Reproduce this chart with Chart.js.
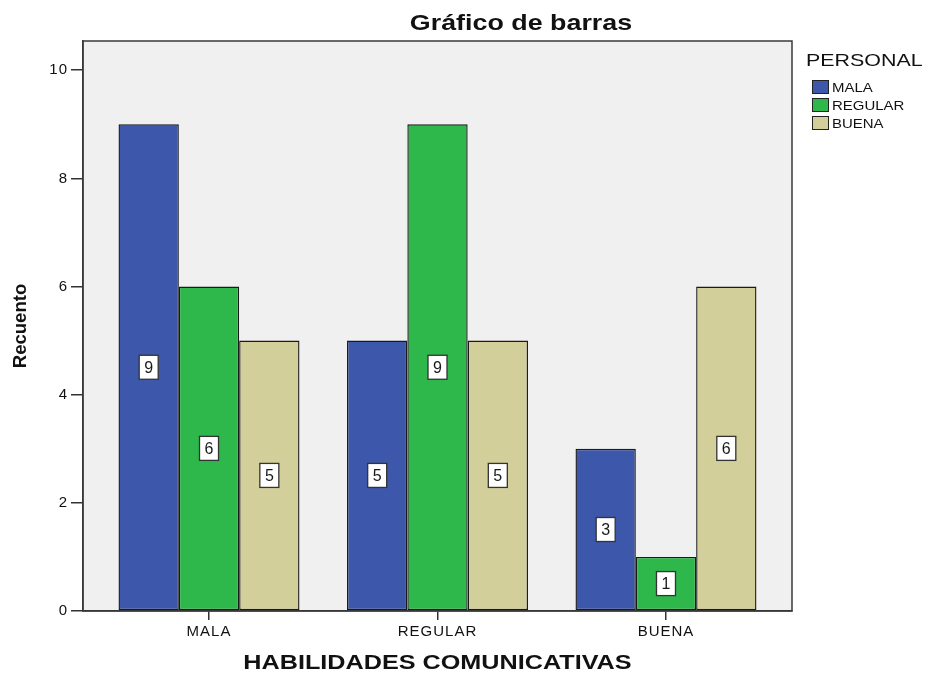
<!DOCTYPE html>
<html><head><meta charset="utf-8">
<script src="https://cdn.jsdelivr.net/npm/chart.js@4/dist/chart.umd.min.js"></script>
<style>html,body{margin:0;padding:0;background:#fff}#wrap{width:926px;height:673px;position:relative}</style>
</head><body><div id="wrap"><canvas id="c" width="926" height="673"></canvas></div>
<script>
const categories = ['MALA', 'REGULAR', 'BUENA'];
const seriesNames = ['MALA', 'REGULAR', 'BUENA'];
const malaValues = [9, 5, 3];
const regularValues = [6, 9, 1];
const buenaValues = [5, 5, 6];
const yTicks = [0, 2, 4, 6, 8, 10];
const chartTitle = 'Gráfico de barras';
const xTitle = 'HABILIDADES COMUNICATIVAS';
const yTitle = 'Recuento';
const legendTitle = 'PERSONAL';
const colors = ['#3d57aa', '#2eb74b', '#d3cf9a'];

const FAMILY = '"Liberation Sans", Arial, sans-serif';
Chart.defaults.font.family = FAMILY;

const seriesValues = [malaValues, regularValues, buenaValues];
const datasets = seriesNames.map((name, s) => ({
  label: name,
  data: categories.map((c, i) => ({ x: i, y: seriesValues[s][i] })),
  backgroundColor: colors[s],
  borderColor: '#1a1a1a',
  borderWidth: 1.4,
  borderSkipped: false,
  categoryPercentage: 0.792,
  barPercentage: 1.0
}));

function stretchText(ctx, text, x, y, font, sx, align, rot) {
  ctx.save();
  ctx.letterSpacing = '0px';
  ctx.font = font;
  ctx.fillStyle = '#111';
  ctx.textBaseline = 'middle';
  ctx.textAlign = align;
  ctx.translate(x, y);
  if (rot) ctx.rotate(rot);
  ctx.scale(sx, 1);
  ctx.fillText(text, 0, 0);
  ctx.restore();
}

const decor = {
  id: 'decor',
  beforeDraw(chart) {
    const { ctx, chartArea: a } = chart;
    ctx.save();
    ctx.fillStyle = '#f0f0f0';
    ctx.fillRect(a.left, a.top, a.right - a.left, a.bottom - a.top);
    ctx.restore();
    ctx.letterSpacing = '1px';
  },
  afterDatasetsDraw(chart) {
    const { ctx, chartArea: a } = chart;
    ctx.save();
    ctx.letterSpacing = '0px';
    ctx.strokeStyle = '#3a3a3a';
    ctx.lineWidth = 1.5;
    ctx.strokeRect(a.left, a.top, a.right - a.left, a.bottom - a.top);
    chart.data.datasets.forEach((ds, di) => {
      const meta = chart.getDatasetMeta(di);
      meta.data.forEach((el, j) => {
        const v = ds.data[j].y;
        const cx = el.x, cy = (el.y + el.base) / 2;
        const w = 19, h = 24;
        ctx.fillStyle = '#ffffff';
        ctx.fillRect(cx - w / 2, cy - h / 2, w, h);
        ctx.strokeStyle = '#333';
        ctx.lineWidth = 1.3;
        ctx.strokeRect(cx - w / 2, cy - h / 2, w, h);
        ctx.fillStyle = '#1a1a1a';
        ctx.font = '16px ' + FAMILY;
        ctx.textAlign = 'center';
        ctx.textBaseline = 'middle';
        ctx.fillText(String(v), cx, cy + 1);
      });
    });
    ctx.restore();
  },
  afterDraw(chart) {
    const { ctx, chartArea: a } = chart;
    ctx.letterSpacing = '0px';
    stretchText(ctx, chartTitle, 521, 24, 'bold 22px ' + FAMILY, 1.22, 'center');
    stretchText(ctx, xTitle, (a.left + a.right) / 2, 663, 'bold 20px ' + FAMILY, 1.26, 'center');
    stretchText(ctx, yTitle, 21, (a.top + a.bottom) / 2, 'bold 18px ' + FAMILY, 1.03, 'center', -Math.PI / 2);
    stretchText(ctx, legendTitle, 806, 61, '17px ' + FAMILY, 1.26, 'left');
    const rows = [87, 105, 123];
    chart.data.datasets.forEach((ds, i) => {
      ctx.save();
      ctx.fillStyle = ds.backgroundColor;
      ctx.fillRect(812, rows[i] - 7, 17, 14);
      ctx.strokeStyle = '#222';
      ctx.lineWidth = 1;
      ctx.strokeRect(812.5, rows[i] - 6.5, 16, 13);
      ctx.restore();
      stretchText(ctx, ds.label, 832, rows[i] + 1, '13px ' + FAMILY, 1.15, 'left');
    });
  }
};

new Chart(document.getElementById('c'), {
  type: 'bar',
  data: { datasets },
  plugins: [decor],
  options: {
    responsive: false,
    devicePixelRatio: 1,
    animation: false,
    layout: { padding: { left: 0, right: 134, top: 41, bottom: 0 } },
    plugins: { legend: { display: false }, title: { display: false }, tooltip: { enabled: false } },
    scales: {
      x: {
        type: 'linear',
        min: -0.5515,
        max: 2.5515,
        offset: false,
        grid: { offset: false, drawOnChartArea: false, tickLength: 9, color: '#333', lineWidth: 1.5 },
        border: { display: true, color: '#333', width: 1.5 },
        ticks: {
          color: '#111',
          font: { size: 15 },
          padding: 3,
          autoSkip: false,
          maxRotation: 0,
          callback: (v) => categories[v] !== undefined ? categories[v] : ''
        },
        afterBuildTicks: (s) => { s.ticks = categories.map((c, i) => ({ value: i })); },
        afterFit: (s) => { s.height = 62; }
      },
      y: {
        min: 0,
        max: 10.54,
        grid: { drawOnChartArea: false, tickLength: 12, color: '#333', lineWidth: 1.5 },
        border: { display: true, color: '#333', width: 1.5 },
        ticks: { color: '#111', font: { size: 15 }, padding: 3 },
        afterBuildTicks: (s) => { s.ticks = yTicks.map(v => ({ value: v })); },
        afterFit: (s) => { s.width = 83; }
      }
    }
  }
});
</script>
</body></html>
